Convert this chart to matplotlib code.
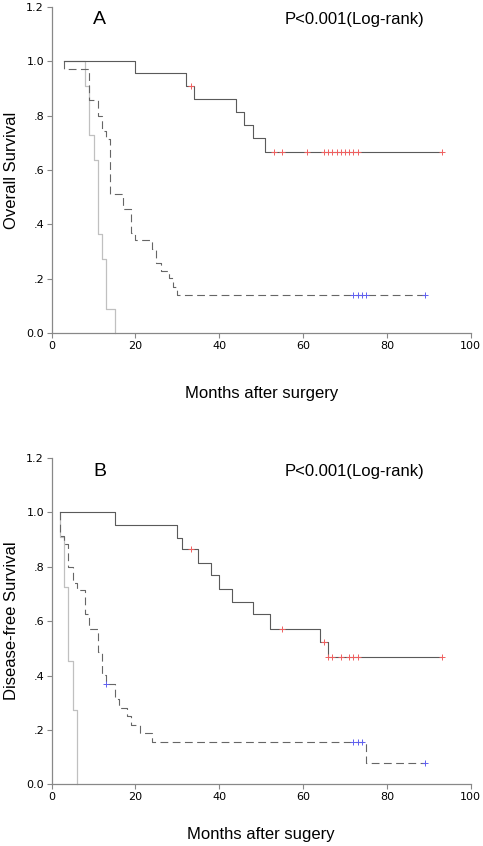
import matplotlib
matplotlib.use("Agg")
import matplotlib.pyplot as plt

plt.rcParams['font.family'] = ['Liberation Sans', 'DejaVu Sans']

# ---- panel A: overall survival ----
a_t1 = [3, 20, 32, 34, 44, 46, 48, 51, 93.2]
a_s1 = [1.0, 0.955, 0.909, 0.862, 0.814, 0.765, 0.716, 0.667, 0.667]
a_c1_t = [33.2, 53, 55, 61, 65, 66, 67, 68, 69, 70, 71, 72, 73, 93.2]
a_c1_s = [0.909, 0.667, 0.667, 0.667, 0.667, 0.667, 0.667, 0.667, 0.667, 0.667, 0.667, 0.667, 0.667, 0.667]

a_t2 = [3, 3, 9, 11, 12, 13, 14, 17, 19, 20, 24, 25, 26, 28, 29, 30, 89]
a_s2 = [1.0, 0.97, 0.856, 0.799, 0.745, 0.714, 0.513, 0.456, 0.370, 0.343,
        0.311, 0.260, 0.230, 0.202, 0.170, 0.141, 0.141]
a_c2_t = [72, 73, 74, 75, 89]
a_c2_s = [0.141, 0.141, 0.141, 0.141, 0.141]

a_t3 = [3, 8, 9, 10, 11, 12, 13, 15]
a_s3 = [1.0, 0.909, 0.727, 0.636, 0.364, 0.273, 0.091, 0.0]

# ---- panel B: disease-free survival ----
b_t1 = [2, 15, 30, 31, 35, 38, 40, 43, 48, 52, 64, 66, 93.2]
b_s1 = [1.0, 0.955, 0.907, 0.864, 0.815, 0.768, 0.720, 0.672, 0.625, 0.573, 0.522, 0.467, 0.467]
b_c1_t = [33.2, 55, 65, 66, 67, 69, 71, 72, 73, 93.2]
b_c1_s = [0.864, 0.573, 0.522, 0.467, 0.467, 0.467, 0.467, 0.467, 0.467, 0.467]

b_t2 = [2, 2, 3, 4, 5, 6, 8, 9, 11, 12, 13, 15, 16, 18, 19, 21, 24, 75, 89]
b_s2 = [1.0, 0.912, 0.885, 0.799, 0.741, 0.713, 0.628, 0.573, 0.487, 0.401,
        0.370, 0.312, 0.282, 0.251, 0.219, 0.190, 0.156, 0.077, 0.077]
b_c2_t = [13, 72, 73, 74, 89]
b_c2_s = [0.370, 0.156, 0.156, 0.156, 0.077]

b_t3 = [2, 2, 3, 4, 5, 6]
b_s3 = [1.0, 0.909, 0.727, 0.455, 0.273, 0.0]

yticks = [0.0, 0.2, 0.4, 0.6, 0.8, 1.0, 1.2]
ytick_labels = ["0.0", ".2", ".4", ".6", ".8", "1.0", "1.2"]
xticks = [0, 20, 40, 60, 80, 100]

fig = plt.figure(figsize=(4.83, 8.46), dpi=100)
ax_a = fig.add_axes([0.107, 0.606, 0.8675, 0.386])
ax_b = fig.add_axes([0.107, 0.0729, 0.8675, 0.3857])


def draw_panel(ax, g1, g2, g3, c1, c2, letter, ylab, xlab, xlab_y):
    ax.step(g3[0], g3[1], where='post', color='#c0c0c0', lw=0.9, clip_on=False)
    ax.step(g2[0], g2[1], where='post', color='#666666', lw=0.8,
            linestyle=(0, (7, 4)), clip_on=False)
    ax.step(g1[0], g1[1], where='post', color='#5a5a5a', lw=0.8, clip_on=False)
    ax.plot(c1[0], c1[1], '+', color='#f06060', ms=5, mew=0.7, clip_on=False)
    ax.plot(c2[0], c2[1], '+', color='#6060f0', ms=5, mew=0.7, clip_on=False)

    ax.set_xlim(0, 100)
    ax.set_ylim(0, 1.2)
    ax.set_xticks(xticks)
    ax.set_yticks(yticks)
    ax.set_yticklabels(ytick_labels)
    for side in ['top', 'right']:
        ax.spines[side].set_visible(False)
    for side in ['left', 'bottom']:
        ax.spines[side].set_color('#888888')
        ax.spines[side].set_linewidth(0.9)
    ax.tick_params(direction='out', length=3.5, width=0.8, color='#888888',
                   labelsize=8, pad=2)
    for lab in ax.get_xticklabels() + ax.get_yticklabels():
        lab.set_family('DejaVu Sans')

    ax.set_ylabel(ylab, fontsize=12, va='center')
    ax.yaxis.set_label_coords(-0.095, 0.5)
    ax.set_xlabel(xlab, fontsize=12, va='center')
    ax.xaxis.set_label_coords(0.5, xlab_y)

    ax.text(0.115, 0.96, letter, transform=ax.transAxes, fontsize=14,
            ha='center', va='center')
    ax.text(0.557, 0.96, "P<0.001(Log-rank)", transform=ax.transAxes,
            fontsize=12, ha='left', va='center')


draw_panel(ax_a, (a_t1, a_s1), (a_t2, a_s2), (a_t3, a_s3),
           (a_c1_t, a_c1_s), (a_c2_t, a_c2_s),
           "A", "Overall Survival", "Months after surgery", -0.183)
draw_panel(ax_b, (b_t1, b_s1), (b_t2, b_s2), (b_t3, b_s3),
           (b_c1_t, b_c1_s), (b_c2_t, b_c2_s),
           "B", "Disease-free Survival", "Months after sugery", -0.155)

fig.savefig("out.png", dpi=100)
